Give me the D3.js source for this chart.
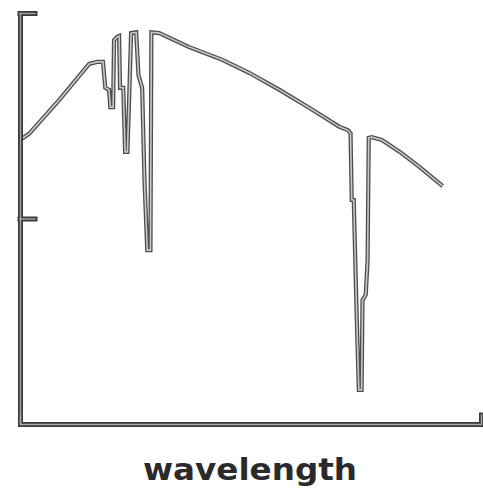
<!DOCTYPE html>
<html>
<head>
<meta charset="utf-8">
<script src="https://cdn.jsdelivr.net/npm/d3@7"></script>
<style>
  html, body { margin: 0; padding: 0; background: #fff; }
  svg { display: block; }
</style>
</head>
<body>
<svg id="chart" width="483" height="488"></svg>
<script>
// Spectrum: relative wavelength (0–100) vs. normalised intensity (0–1)
const wavelength = [
  0, 1.96, 8.48, 15.0, 16.7, 18.0, 18.5, 19.3, 19.6, 20.2,
  20.4, 21.1, 21.5, 21.7, 22.4, 22.8, 23.3, 23.7, 24.1, 25.2,
  25.7, 26.5, 27.0, 27.6, 28.3, 28.5, 30.2, 36.7, 43.9, 49.8,
  56.3, 62.8, 69.3, 71.1, 71.7, 71.96, 72.4, 73.0, 73.5, 74.1,
  74.3, 75.0, 75.4, 75.65, 76.3, 78.5, 82.4, 86.7, 91.7
];
const intensity = [
  0.691, 0.706, 0.788, 0.876, 0.881, 0.881, 0.818, 0.813, 0.771, 0.771,
  0.934, 0.942, 0.944, 0.818, 0.818, 0.662, 0.662, 0.800, 0.951, 0.953,
  0.849, 0.818, 0.594, 0.423, 0.423, 0.953, 0.951, 0.917, 0.886, 0.854,
  0.813, 0.769, 0.723, 0.715, 0.708, 0.545, 0.545, 0.277, 0.083, 0.083,
  0.302, 0.314, 0.399, 0.696, 0.698, 0.691, 0.662, 0.625, 0.579
];
const yTicks = [0.5, 1];
const xLabel = "wavelength";

const svg = d3.select("#chart");
const margin = { left: 20, right: 2, top: 13, bottom: 64 };
const W = 483, H = 488;

const x = d3.scaleLinear().domain([0, 100]).range([margin.left, W - margin.right]);
const y = d3.scaleLinear().domain([0, 1]).range([H - margin.bottom, margin.top]);

const points = wavelength.map((w, i) => [w, intensity[i]]);
const line = d3.line().x(d => x(d[0])).y(d => y(d[1]));

// Outlined strokes: a dark wide pass under a light narrow pass
const passes = [
  { stroke: "#4e4e4e", width: 4.2 },
  { stroke: "#c8c8c8", width: 1.6 }
];

passes.forEach(p => {
  svg.append("path")
    .datum(points)
    .attr("fill", "none")
    .attr("stroke", p.stroke)
    .attr("stroke-width", p.width)
    .attr("stroke-linejoin", "miter")
    .attr("stroke-miterlimit", 2)
    .attr("d", line);
});

// Axes, drawn with the same two-pass outline
const axisPasses = [
  { stroke: "#3a3a3a", width: 5 },
  { stroke: "#a8a8a8", width: 1.4 }
];

axisPasses.forEach(p => {
  const gy = svg.append("g")
    .attr("transform", `translate(${margin.left},0)`)
    .call(d3.axisLeft(y).tickValues(yTicks).tickSizeInner(-15).tickSizeOuter(0).tickFormat(""));
  gy.selectAll("path, line")
    .attr("stroke", p.stroke)
    .attr("stroke-width", p.width)
    .attr("stroke-linecap", "square");

  const gx = svg.append("g")
    .attr("transform", `translate(0,${H - margin.bottom})`)
    .call(d3.axisBottom(x).tickValues([]).tickSizeOuter(-9));
  gx.selectAll("path, line")
    .attr("stroke", p.stroke)
    .attr("stroke-width", p.width)
    .attr("stroke-linecap", "square");
});

svg.append("text")
  .attr("x", 250)
  .attr("y", 480)
  .attr("text-anchor", "middle")
  .attr("font-family", "DejaVu Sans")
  .attr("font-weight", "bold")
  .attr("font-size", 31)
  .attr("fill", "#2a2a2a")
  .attr("textLength", 214)
  .attr("lengthAdjust", "spacingAndGlyphs")
  .text(xLabel);
</script>
</body>
</html>
